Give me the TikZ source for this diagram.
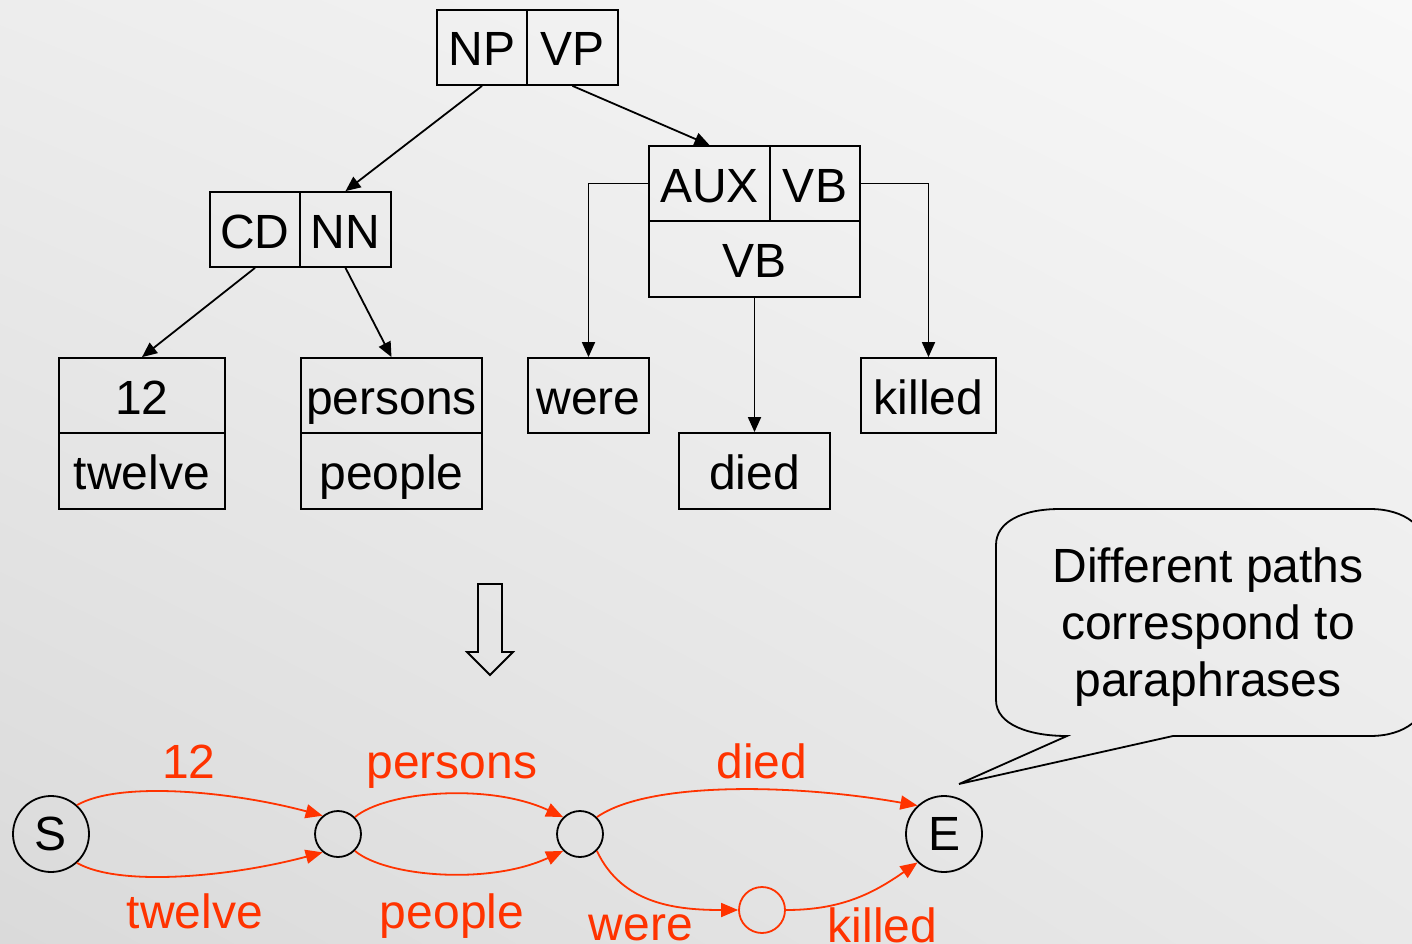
\documentclass[tikz,border=0pt]{standalone}
\usepackage{fontspec}
\setmainfont{Liberation Sans}
\usetikzlibrary{arrows.meta,shadings}
\definecolor{pathred}{RGB}{255,51,0}
\definecolor{bgul}{RGB}{237,237,237}
\definecolor{bgur}{RGB}{248,248,248}
\definecolor{bgll}{RGB}{218,218,218}
\definecolor{bglr}{RGB}{233,233,233}
\newcommand{\bigfont}{\fontsize{48}{57}\selectfont}
\begin{document}
\begin{tikzpicture}[x=1pt,y=-1pt,
  cell/.style={draw, line width=1.8pt, inner sep=0pt, minimum height=75pt,
    text height=37pt, text depth=0pt, font=\bigfont},
  tree/.style={line width=1.8pt, -{Triangle[length=15pt,width=13pt]}},
  state/.style={circle, draw, line width=1.8pt, inner sep=0pt, font=\bigfont},
  redge/.style={pathred, line width=1.8pt, -{Triangle[length=17pt,width=14pt]}},
  lab/.style={text=pathred, anchor=base, inner sep=0pt, font=\bigfont}]

\useasboundingbox (0,0) rectangle (1412,944);
\shade[upper left=bgul, upper right=bgur, lower left=bgll, lower right=bglr]
  (0,0) rectangle (1412,944);

% parse tree cells
\node[cell, minimum width=90pt] (np) at (482,47.5) {NP};
\node[cell, minimum width=91pt] (vp) at (572.5,47.5) {VP};
\node[cell, minimum width=90pt] (cd) at (255,229.5) {CD};
\node[cell, minimum width=91pt] (nn) at (345.5,229.5) {NN};
\node[cell, minimum width=121pt] (aux) at (709.5,183.5) {AUX};
\node[cell, minimum width=90pt] (vbt) at (815,183.5) {VB};
\node[cell, minimum width=211pt, minimum height=76pt] (vbb) at (754.5,259) {VB};
\node[cell, minimum width=166pt] (n12) at (142,395.5) {12};
\node[cell, minimum width=166pt, minimum height=76pt] (ntwelve) at (142,471) {twelve};
\node[cell, minimum width=181pt] (persons) at (391.5,395.5) {persons};
\node[cell, minimum width=181pt, minimum height=76pt] (people) at (391.5,471) {people};
\node[cell, minimum width=121pt] (were) at (588.5,395.5) {were};
\node[cell, minimum width=151pt, minimum height=76pt] (died) at (754.5,471) {died};
\node[cell, minimum width=135pt] (killed) at (928.5,395.5) {killed};

% tree edges
\draw[tree] (np.south) -- (nn.north);
\draw[tree] (vp.south) -- (aux.north);
\draw[tree] (cd.south) -- (n12.north);
\draw[tree] (nn.south) -- (persons.north);
\draw[tree] (aux.west) -| (were.north);
\draw[tree] (vbt.east) -| (killed.north);
\draw[tree] (vbb.south) -- (died.north);

% hollow down arrow
\draw[line width=1.8pt] (478,584) -- (502,584) -- (502,652) -- (513,652)
  -- (490,675) -- (467,652) -- (478,652) -- cycle;

% lattice
\node[state, minimum size=76pt] (s) at (51,834) {S};
\node[state, minimum size=76pt] (e) at (944,834) {E};
\node[state, minimum size=46pt] (a) at (338,834) {};
\node[state, minimum size=46pt] (b) at (580,834) {};
\node[state, minimum size=46pt, pathred] (w) at (762,910) {};

\draw[redge] (s.48) to[out=30,in=165,out looseness=0.5] (a.130);
\draw[redge] (s.-48) to[out=-30,in=-165,out looseness=0.5] (a.-130);
\draw[redge] (a.45) to[out=40,in=155,out looseness=0.5] (b.135);
\draw[redge] (a.-45) to[out=-40,in=-155,out looseness=0.5] (b.-135);
\draw[redge] (b.45) to[out=35,in=170,out looseness=0.5] (e.133);
\draw[redge] (b.-45) to[out=-65,in=180] (w.180);
\draw[redge] (w.0) to[out=0,in=-145] (e.-133);

\node[lab] (l12) at (189,778) {12};
\node[lab] (ltwelve) at (195,928) {twelve};
\node[lab] (lpersons) at (452,778) {persons};
\node[lab] (lpeople) at (452,928) {people};
\node[lab] (ldied) at (762,778) {died};
\node[lab] (lwere) at (641,940) {were};
\node[lab] (lkilled) at (882.5,942) {killed};

% callout
\coordinate (tip) at (959,784);
\draw[line width=1.8pt] (tip) -- (1173,736) -- (1370,736)
  .. controls (1405,736) and (1428,718) .. (1428,690) -- (1428,555)
  .. controls (1428,527) and (1405,509) .. (1370,509) -- (1060,509)
  .. controls (1022,509) and (996,522) .. (996,545) -- (996,700)
  .. controls (996,725) and (1030,736) .. (1067,736) -- cycle;
\node[align=center, font=\bigfont, inner sep=0pt] (note) at (1208,627)
  {Different paths\\correspond to\\paraphrases};
\end{tikzpicture}
\end{document}
